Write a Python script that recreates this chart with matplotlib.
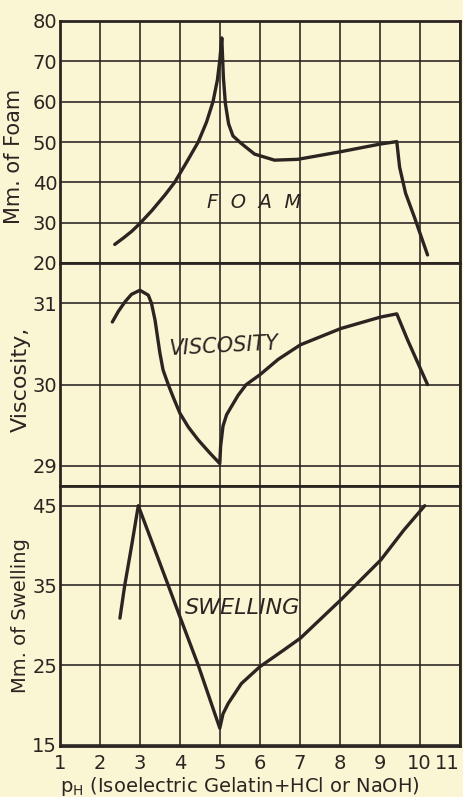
import matplotlib
matplotlib.use("Agg")
import matplotlib.pyplot as plt

# Foam (mm) vs pH
foam_ph = [2.37, 2.6, 2.8, 3.0, 3.3, 3.63, 3.87, 4.17, 4.46, 4.67, 4.83, 4.94,
           5.0, 5.05, 5.09, 5.14, 5.22, 5.33, 5.53, 5.87, 6.37, 6.95, 8.03,
           9.02, 9.43, 9.50, 9.65, 9.87, 10.2]
foam_mm = [24.6, 26.3, 27.9, 29.8, 33.0, 36.9, 40.0, 45.0, 50.0, 55.0, 60.0,
           65.4, 70.3, 75.8, 66.0, 59.5, 54.5, 51.5, 49.7, 47.0, 45.5, 45.7,
           47.6, 49.5, 50.1, 43.8, 37.3, 31.4, 22.0]

# Viscosity vs pH
visc_ph = [2.31, 2.46, 2.63, 2.79, 3.0, 3.21, 3.29, 3.38, 3.44, 3.5, 3.58,
           3.71, 3.83, 4.0, 4.21, 4.46, 4.75, 5.0, 5.02, 5.08, 5.17, 5.29,
           5.46, 5.66, 6.0, 6.46, 7.02, 8.03, 9.02, 9.43, 9.70, 10.2]
visc = [30.77, 30.90, 31.02, 31.11, 31.16, 31.10, 31.0, 30.79, 30.59, 30.39,
        30.18, 30.0, 29.85, 29.65, 29.48, 29.32, 29.16, 29.03, 29.24, 29.49,
        29.63, 29.73, 29.87, 30.0, 30.12, 30.31, 30.49, 30.69, 30.83, 30.87,
        30.55, 30.0]

# Swelling (mm) vs pH
swell_ph = [2.5, 2.62, 2.79, 2.96, 3.71, 4.0, 4.46, 5.0, 5.08, 5.21, 5.54,
            6.0, 6.6, 7.02, 8.03, 8.45, 9.03, 9.6, 10.13]
swell_mm = [30.9, 35.0, 39.9, 45.0, 35.0, 31.1, 25.0, 17.1, 18.9, 20.2, 22.7,
            24.8, 26.9, 28.4, 33.2, 35.3, 38.2, 41.9, 45.0]

x_ticks = list(range(1, 12))
foam_ticks = [20, 30, 40, 50, 60, 70, 80]
visc_ticks = [29, 30, 31]
swell_ticks = [15, 25, 35, 45]

bg = '#faf6d4'
ink = '#2b2522'

plt.rcParams['font.family'] = ['DejaVu Sans']
fig = plt.figure(figsize=(4.63, 7.97), dpi=100, facecolor=bg)

left, width = 60 / 463, 399.5 / 463
ax_foam = fig.add_axes([left, 534 / 797, width, 242 / 797])
ax_visc = fig.add_axes([left, 311 / 797, width, 223 / 797])
ax_swell = fig.add_axes([left, 51 / 797, width, 260 / 797])

panels = [
    (ax_foam, foam_ph, foam_mm, foam_ticks, (20, 80)),
    (ax_visc, visc_ph, visc, visc_ticks, (28.754, 31.495)),
    (ax_swell, swell_ph, swell_mm, swell_ticks, (14.87, 47.47)),
]

for ax, xs, ys, yt, yl in panels:
    ax.set_facecolor(bg)
    ax.plot(xs, ys, color=ink, lw=2.4, solid_joinstyle='round',
            solid_capstyle='round', zorder=3)
    ax.set_xlim(1, 11)
    ax.set_ylim(*yl)
    ax.set_xticks(x_ticks)
    ax.set_yticks(yt)
    ax.grid(True, color=ink, lw=1.3, alpha=0.9)
    ax.tick_params(length=0, labelsize=14, colors=ink, pad=2)
    for s in ax.spines.values():
        s.set_color(ink)
        s.set_linewidth(2.0)
    if ax is not ax_swell:
        ax.tick_params(labelbottom=False)

ax_swell.tick_params(axis='x', pad=6)
ax_swell.get_xticklabels()[-1].set_ha('right')
ax_swell.set_xlabel(r'$\mathrm{p}_\mathrm{H}$ (Isoelectric Gelatin+HCl or NaOH)',
                    fontsize=14, color=ink, loc='left', labelpad=1)

fig.text(14.5 / 463, 1 - 156 / 797, 'Mm. of Foam', rotation=90, ha='center',
         va='center', fontsize=15, color=ink)
fig.text(21 / 463, 1 - 379 / 797, 'Viscosity,', rotation=90, ha='center',
         va='center', fontsize=16, color=ink)
fig.text(21 / 463, 1 - 616 / 797, 'Mm. of Swelling', rotation=90, ha='center',
         va='center', fontsize=14, color=ink)

ax_foam.text(4.68, 35, 'F  O  A  M', style='italic', fontsize=14, color=ink,
             ha='left', va='center')
ax_visc.text(3.71, 30.47, 'VISCOSITY', style='italic', fontsize=15, color=ink,
             ha='left', va='center', rotation=3)
ax_swell.text(4.13, 32.2, 'SWELLING', style='italic', fontsize=16, color=ink,
              ha='left', va='center')

fig.savefig('out.png', dpi=100, facecolor=bg)
